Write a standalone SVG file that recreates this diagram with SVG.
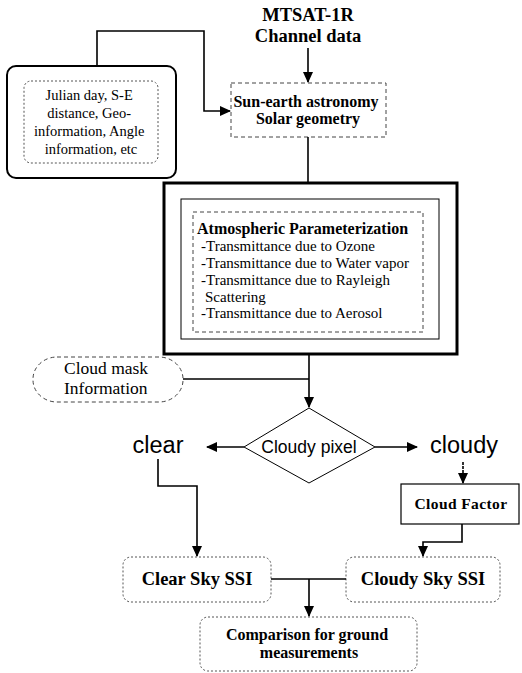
<svg xmlns="http://www.w3.org/2000/svg" width="522" height="673" viewBox="0 0 522 673">
<style>
.serif{font-family:"Liberation Serif","Times New Roman",serif;fill:#000}
.sans{font-family:"Liberation Sans",Arial,sans-serif;fill:#000}
.b{font-weight:bold}
.conn{fill:none;stroke:#000;stroke-width:1.6}
.dash{fill:none;stroke:#444;stroke-width:1;stroke-dasharray:4 3}
.dot{fill:none;stroke:#555;stroke-width:1;stroke-dasharray:2 2}
</style>
<defs>
<marker id="ah" markerUnits="userSpaceOnUse" markerWidth="11" markerHeight="10" refX="10" refY="5" orient="auto">
<path d="M0,0 L11,5 L0,10 z" fill="#000"/>
</marker>
</defs>
<rect width="522" height="673" fill="#fff"/>

<g id="mtsat">
<text class="serif b" x="308" y="21" font-size="18.5" text-anchor="middle">MTSAT-1R</text>
<text class="serif b" x="308" y="42" font-size="18.5" text-anchor="middle">Channel data</text>
</g>

<g id="julian">
<rect x="7" y="66" width="169" height="112" rx="9" fill="none" stroke="#000" stroke-width="2"/>
<rect x="24" y="81" width="134" height="82" rx="7" class="dot"/>
<text class="serif" font-size="14.5" text-anchor="middle">
<tspan x="91" y="100">Julian day, S-E</tspan>
<tspan x="91" y="118">distance, Geo-</tspan>
<tspan x="91" y="136">information, Angle</tspan>
<tspan x="91" y="154">information, etc</tspan>
</text>
</g>

<g id="sunearth">
<rect x="231" y="83" width="155" height="54" class="dash"/>
<text class="serif b" font-size="16" text-anchor="middle">
<tspan x="308" y="107">Sun-earth astronomy</tspan>
<tspan x="308" y="124">Solar geometry</tspan>
</text>
</g>

<g id="atmos">
<rect x="164" y="183" width="293" height="171" fill="none" stroke="#000" stroke-width="3"/>
<rect x="181" y="199" width="258" height="140" fill="none" stroke="#000" stroke-width="1"/>
<rect x="193" y="212" width="230" height="120" class="dash" stroke="#888"/>
<text class="serif b" x="197" y="234" font-size="16">Atmospheric Parameterization</text>
<text class="serif" font-size="15">
<tspan x="201" y="251">-Transmittance due to Ozone</tspan>
<tspan x="201" y="268">-Transmittance due to Water vapor</tspan>
<tspan x="201" y="285">-Transmittance due to Rayleigh</tspan>
<tspan x="205" y="302">Scattering</tspan>
<tspan x="201" y="318">-Transmittance due to Aerosol</tspan>
</text>
</g>

<g id="cloudmask">
<rect x="33" y="357" width="150" height="45" rx="24" ry="22" class="dash"/>
<text class="serif" font-size="17.5">
<tspan x="64" y="374">Cloud mask</tspan>
<tspan x="64" y="394">Information</tspan>
</text>
</g>

<g id="cloudypixel">
<polygon points="309,408 375,447 309,483 244,447" fill="none" stroke="#000" stroke-width="1"/>
<text class="sans" x="309" y="453" font-size="17.5" text-anchor="middle">Cloudy pixel</text>
</g>

<g id="clear">
<text class="sans" x="158" y="453" font-size="23.5" text-anchor="middle">clear</text>
</g>

<g id="cloudy">
<text class="sans" x="464" y="453" font-size="23.5" text-anchor="middle">cloudy</text>
</g>

<g id="cloudfactor">
<rect x="401" y="484" width="118" height="40" fill="none" stroke="#000" stroke-width="1.2"/>
<text class="serif b" x="461" y="509" font-size="15.5" text-anchor="middle" letter-spacing="0.4">Cloud Factor</text>
</g>

<g id="clearsky">
<rect x="123" y="557" width="148" height="45" rx="8" class="dot" stroke="#999"/>
<text class="serif b" x="197" y="585" font-size="18.5" text-anchor="middle">Clear Sky SSI</text>
</g>

<g id="cloudysky">
<rect x="346" y="557" width="154" height="45" rx="8" class="dot" stroke="#999"/>
<text class="serif b" x="423" y="585" font-size="18.5" text-anchor="middle">Cloudy Sky SSI</text>
</g>

<g id="comparison">
<rect x="200" y="617" width="217" height="54" rx="8" class="dot" stroke="#999"/>
<text class="serif b" font-size="16" text-anchor="middle">
<tspan x="309" y="640">Comparison for ground</tspan>
<tspan x="309" y="658">measurements</tspan>
</text>
</g>

<g id="connectors">
<path class="conn" d="M308,48 L308,82" marker-end="url(#ah)"/>
<path class="conn" d="M97,66 L97,31 L204,31 L204,111 L230,111" marker-end="url(#ah)"/>
<path class="conn" d="M308,137 L308,183"/>
<path class="conn" d="M309,354 L309,407" marker-end="url(#ah)"/>
<path class="conn" d="M183,379 L309,379"/>
<path class="conn" d="M244,447 L207,447" marker-end="url(#ah)"/>
<path class="conn" d="M375,447 L417,447" marker-end="url(#ah)"/>
<path class="conn" d="M158,459 L158,486 L197,486 L197,556" marker-end="url(#ah)"/>
<path class="conn" d="M463,462 L463,483" marker-end="url(#ah)" stroke-dasharray="3 1"/>
<path class="conn" d="M462,524 L462,542 L423,542 L423,556" marker-end="url(#ah)"/>
<path class="conn" d="M271,579 L346,579"/>
<path class="conn" d="M309,579 L309,616" marker-end="url(#ah)"/>
</g>
</svg>
